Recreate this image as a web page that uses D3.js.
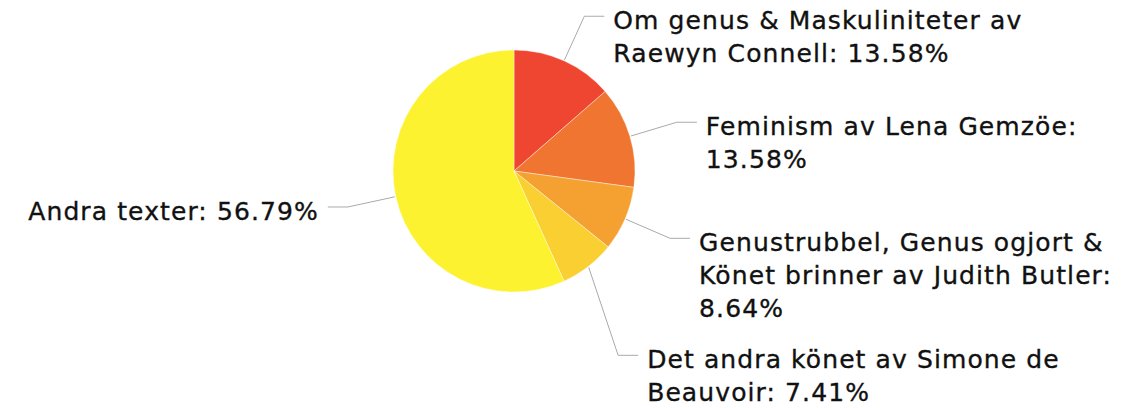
<!DOCTYPE html>
<html>
<head>
<meta charset="utf-8">
<script src="https://cdn.jsdelivr.net/npm/d3@7"></script>
<style>
  html, body { margin: 0; padding: 0; background: #fff; }
  text { font-family: "DejaVu Sans", Verdana, sans-serif; }
</style>
</head>
<body>
<div id="chart"></div>
<script>
// pie data
var categories = [
    "Om genus & Maskuliniteter av Raewyn Connell",
    "Feminism av Lena Gemzöe",
    "Genustrubbel, Genus ogjort & Könet brinner av Judith Butler",
    "Det andra könet av Simone de Beauvoir",
    "Andra texter"
];
var values = [13.58, 13.58, 8.64, 7.41, 56.79];
var colors = ["#EE4630", "#F07531", "#F5A132", "#F9CF31", "#FDF22F"];

var param = {
    width: 1139,
    height: 408,
    cx: 514,
    cy: 171,
    radius: 121,
    elbowRadius: 170,
    hLine: 20,
    textGap: 9,
    fontSize: 25,
    letterSpacing: 1.1,
    lineHeight: 33,
    minGap: 18
};

var svg = d3.select("#chart").append("svg")
    .attr("width", param.width).attr("height", param.height);

var data = categories.map(function(c, i) { return {name: c, value: values[i], color: colors[i]}; });

var pie = d3.pie().sort(null).value(function(d) { return d.value; });
var arc = d3.arc().innerRadius(0).outerRadius(param.radius);
var arcs = pie(data);

var g = svg.append("g").attr("transform", "translate(" + param.cx + "," + param.cy + ")");

g.selectAll("path.slice").data(arcs).enter()
    .append("path").attr("class", "slice")
    .attr("d", arc)
    .style("fill", function(d) { return d.data.color; })
    .style("stroke", "#fff").style("stroke-width", 0.4);

//---- label layout
var labels = arcs.map(function(d) {
    var a = (d.startAngle + d.endAngle) / 2;
    var right = Math.sin(a) >= 0;
    return {
        arc: d,
        a: a,
        right: right,
        x0: Math.sin(a) * (param.radius + 1),
        y0: -Math.cos(a) * (param.radius + 1),
        ex: Math.sin(a) * param.elbowRadius,
        ey: -Math.cos(a) * param.elbowRadius,
        text: d.data.name + ": " + d.data.value.toFixed(2) + "%"
    };
});

var lg = g.append("g").attr("class", "labels");

// make text elements and wrap them first, so we know the line count
labels.forEach(function(l) {
    var tx = l.right ? l.ex + param.hLine + param.textGap : l.ex - param.hLine - param.textGap;
    var maxW = l.right ? (param.width - param.cx) - tx - 4 : (param.cx + tx) - 4;
    var t = lg.append("text")
        .attr("text-anchor", l.right ? "start" : "end")
        .style("font-size", param.fontSize + "px")
        .style("letter-spacing", param.letterSpacing + "px")
        .style("fill", "#111")
        .style("stroke", "#111").style("stroke-width", 0.35);
    var words = l.text.split(" "), line = [], lines = [];
    var tmp = t.append("tspan");
    words.forEach(function(w) {
        line.push(w);
        tmp.text(line.join(" "));
        if (tmp.node().getComputedTextLength() > maxW && line.length > 1) {
            line.pop();
            lines.push(line.join(" "));
            line = [w];
        }
    });
    lines.push(line.join(" "));
    tmp.remove();
    l.lines = lines;
    l.tx = tx;
    l.node = t;
});

// push labels on the right side down when they overlap
var rightLabels = labels.filter(function(l) { return l.right; })
    .sort(function(a, b) { return a.ey - b.ey; });
for (var j = 1; j < rightLabels.length; j += 1) {
    var prev = rightLabels[j - 1];
    var minY = prev.ey + prev.lines.length * param.lineHeight + param.minGap;
    if (rightLabels[j].ey < minY) rightLabels[j].ey = minY;
}

labels.forEach(function(l) {
    var hx = l.right ? l.ex + param.hLine : l.ex - param.hLine;
    lg.append("path")
        .attr("d", "M" + l.x0 + "," + l.y0 + "L" + l.ex + "," + l.ey + "L" + hx + "," + l.ey)
        .style("fill", "none").style("stroke", "#aaa").style("stroke-width", 1);
    l.node.attr("x", l.tx).attr("y", l.ey + 13);
    l.node.selectAll("tspan").data(l.lines).enter()
        .append("tspan")
        .attr("x", l.tx)
        .attr("dy", function(d, i) { return i === 0 ? 0 : param.lineHeight; })
        .text(function(d) { return d; });
});
</script>
</body>
</html>
